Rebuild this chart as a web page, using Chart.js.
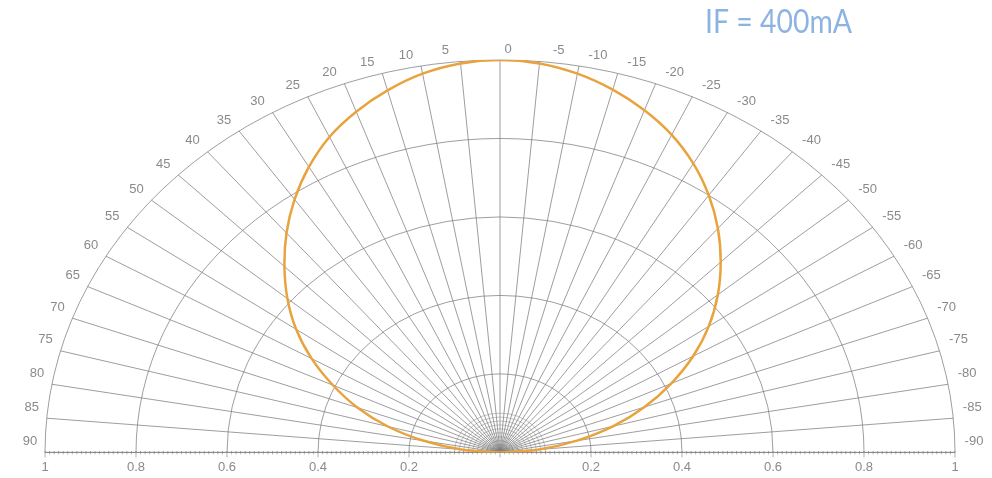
<!DOCTYPE html>
<html>
<head>
<meta charset="utf-8">
<script src="https://cdn.jsdelivr.net/npm/chart.js@4/dist/chart.umd.min.js"></script>
<style>
  html, body { margin: 0; padding: 0; background: #fff; }
  #wrap { width: 992px; height: 478px; position: relative; }
</style>
</head>
<body>
<div id="wrap"><canvas id="chart"></canvas></div>
<script>
// ── Data ──────────────────────────────────────────────────────────────────
// angle in degrees, positive to the left of the 0° axis
const angles = [90, 85, 80, 75, 70, 65, 60, 55, 50, 45, 40, 35, 30, 25, 20, 15, 10, 5,
                0, -5, -10, -15, -20, -25, -30, -35, -40, -45, -50, -55, -60, -65, -70, -75, -80, -85, -90];
// relative intensity
const intensity = [0, 0.085, 0.17, 0.255, 0.333, 0.405, 0.478, 0.547, 0.61, 0.67, 0.73, 0.787, 0.84, 0.887, 0.924, 0.955, 0.98, 0.995,
                   1.0, 0.995, 0.98, 0.957, 0.928, 0.893, 0.85, 0.8, 0.745, 0.686, 0.625, 0.56, 0.49, 0.415, 0.338, 0.258, 0.172, 0.086, 0];
const ringValues = [0.2, 0.4, 0.6, 0.8, 1];
const title = 'IF = 400mA';

const GRID  = 'rgba(125,125,125,0.75)';
const LABEL = '#8a8a8a';
const rad = d => d * Math.PI / 180;

// polar -> cartesian for the scatter scales
const curve = angles.map((a, i) => ({ x: -intensity[i] * Math.sin(rad(a)), y: intensity[i] * Math.cos(rad(a)) }));

// ── Polar grid, angle labels, title ───────────────────────────────────────
const polarGrid = {
  id: 'polarGrid',
  beforeDatasetsDraw(chart) {
    const { ctx, scales: { x, y } } = chart;
    const cx = x.getPixelForValue(0), cy = y.getPixelForValue(0);
    const rx = r => x.getPixelForValue(r) - cx;
    const ry = r => cy - y.getPixelForValue(r);
    ctx.save();
    ctx.strokeStyle = GRID;

    // fine rings near the origin
    ctx.lineWidth = 0.6;
    for (let r = 0.01; r < 0.1; r += 0.01) {
      ctx.beginPath();
      ctx.ellipse(cx, cy, rx(r), ry(r), 0, Math.PI, 2 * Math.PI);
      ctx.stroke();
    }

    // main rings
    ctx.lineWidth = 1;
    ringValues.forEach(r => {
      ctx.beginPath();
      ctx.ellipse(cx, cy, rx(r), ry(r), 0, Math.PI, 2 * Math.PI);
      ctx.stroke();
    });

    // spokes every 5°
    angles.forEach(a => {
      ctx.beginPath();
      ctx.moveTo(cx, cy);
      ctx.lineTo(x.getPixelForValue(-Math.sin(rad(a))), y.getPixelForValue(Math.cos(rad(a))));
      ctx.stroke();
    });

    // baseline with minor ticks
    ctx.beginPath();
    ctx.moveTo(x.getPixelForValue(-1), cy);
    ctx.lineTo(x.getPixelForValue(1), cy);
    ctx.stroke();
    ctx.lineWidth = 0.8;
    for (let i = -100; i <= 100; i++) {
      const px = x.getPixelForValue(i / 100);
      const major = i % 20 === 0;
      ctx.beginPath();
      ctx.moveTo(px, cy - 1.5);
      ctx.lineTo(px, cy + (major ? 5 : 2));
      ctx.stroke();
    }

    // angle labels around the outer ring
    ctx.fillStyle = LABEL;
    ctx.font = '13px "Liberation Sans", Arial, sans-serif';
    ctx.textAlign = 'center';
    ctx.textBaseline = 'middle';
    angles.forEach(a => {
      const px = x.getPixelForValue(-Math.sin(rad(a)));
      const py = y.getPixelForValue(Math.cos(rad(a)));
      const dx = a > 0 ? -15 : (a === 0 ? 8 : 19);
      ctx.fillText(String(a), px + dx, py - 11);
    });
    ctx.restore();
  },
  afterDraw(chart) {
    const { ctx } = chart;
    ctx.save();
    ctx.fillStyle = 'rgb(140,179,226)';
    ctx.font = '32px Lato, "Open Sans", sans-serif';
    ctx.textBaseline = 'alphabetic';
    const w = ctx.measureText(title).width;
    ctx.translate(705, 33);
    ctx.scale(147 / w, 1);
    ctx.fillText(title, 0, 0);
    ctx.restore();
  }
};

// ── Chart ─────────────────────────────────────────────────────────────────
new Chart(document.getElementById('chart'), {
  type: 'scatter',
  data: {
    datasets: [{
      data: curve,
      showLine: true,
      borderColor: 'rgb(232,163,62)',
      borderWidth: 2.5,
      pointRadius: 0,
      tension: 0.35,
      fill: false,
    }],
  },
  options: {
    responsive: true,
    maintainAspectRatio: false,
    animation: false,
    layout: { padding: { left: 45, right: 37, top: 60, bottom: -4 } },
    plugins: { legend: { display: false }, tooltip: { enabled: false } },
    scales: {
      x: {
        type: 'linear', min: -1, max: 1,
        grid: { display: false, drawTicks: false }, border: { display: false },
        ticks: {
          stepSize: 0.2, padding: 7, color: LABEL, maxRotation: 0, autoSkip: false,
          font: { size: 13, family: '"Liberation Sans", Arial, sans-serif' },
          callback: v => Math.abs(v) < 1e-9 ? '' : String(+Math.abs(v).toFixed(1)),
        },
      },
      y: { type: 'linear', min: 0, max: 1, display: false },
    },
  },
  plugins: [polarGrid],
});
</script>
</body>
</html>
